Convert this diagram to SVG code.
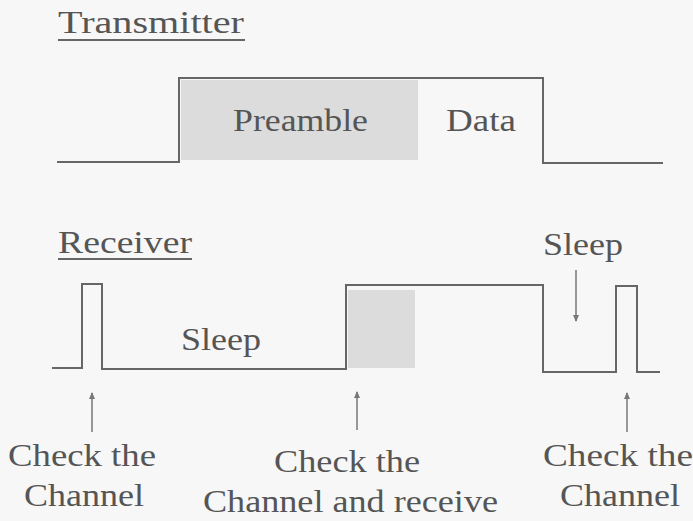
<svg xmlns="http://www.w3.org/2000/svg" width="693" height="521" viewBox="0 0 693 521">
<style>
text{font-family:"Liberation Serif","Times New Roman",serif;font-size:31px;fill:#555}
.sig{fill:none;stroke:#666;stroke-width:2}
.ul{stroke:#666;stroke-width:2}
.arr{stroke:#777;stroke-width:1.5;fill:none;marker-end:url(#ah)}
.shade{fill:#dcdcdc}
</style>
<defs>
<marker id="ah" markerWidth="8" markerHeight="10" refX="6" refY="4" orient="auto" markerUnits="userSpaceOnUse"><path d="M0,1 L7,4 L0,7 z" fill="#777"/></marker>
</defs>
<rect width="693" height="521" fill="#f7f7f7"/>
<g id="transmitter">
<text x="58" y="33" textLength="186" lengthAdjust="spacingAndGlyphs">Transmitter</text>
<line class="ul" x1="58" y1="40" x2="245" y2="40"/>
<rect class="shade" x="181" y="80" width="237" height="80"/>
<path class="sig" d="M57,162 H179 V78 H543 V163 H663"/>
<text x="233" y="131" textLength="135" lengthAdjust="spacingAndGlyphs">Preamble</text>
<text x="446" y="131" textLength="70" lengthAdjust="spacingAndGlyphs">Data</text>
</g>
<g id="receiver">
<text x="58" y="253" textLength="134" lengthAdjust="spacingAndGlyphs">Receiver</text>
<line class="ul" x1="58" y1="259" x2="192" y2="259"/>
<rect class="shade" x="348" y="290" width="67" height="78"/>
<path class="sig" d="M52,368 H82 V284 H102 V369 H346 V285 H543 V372 H616 V286 H637 V372 H660"/>
<text x="181" y="350" textLength="80" lengthAdjust="spacingAndGlyphs">Sleep</text>
<text x="543" y="255" textLength="80" lengthAdjust="spacingAndGlyphs">Sleep</text>
</g>
<g id="labels">
<text x="8" y="466" textLength="148" lengthAdjust="spacingAndGlyphs">Check the</text>
<text x="24" y="506" textLength="120" lengthAdjust="spacingAndGlyphs">Channel</text>
<text x="274" y="472" textLength="146" lengthAdjust="spacingAndGlyphs">Check the</text>
<text x="203" y="512" textLength="295" lengthAdjust="spacingAndGlyphs">Channel and receive</text>
<text x="543" y="466" textLength="150" lengthAdjust="spacingAndGlyphs">Check the</text>
<text x="560" y="506" textLength="120" lengthAdjust="spacingAndGlyphs">Channel</text>
</g>
<g id="connectors">
<line class="arr" x1="92" y1="432" x2="92" y2="393"/>
<line class="arr" x1="357" y1="430" x2="357" y2="392"/>
<line class="arr" x1="627" y1="432" x2="627" y2="393"/>
<line class="arr" x1="576" y1="270" x2="576" y2="321"/>
</g>
</svg>
